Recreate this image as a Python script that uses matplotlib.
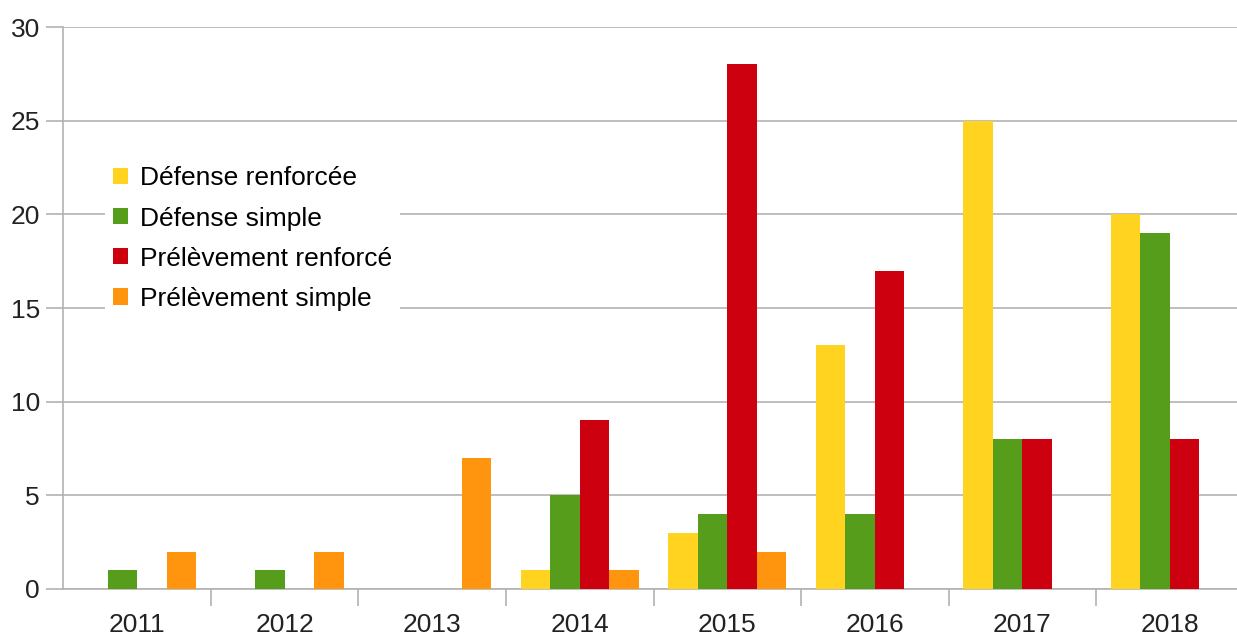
import numpy as np
import matplotlib.pyplot as plt

plt.rcParams['font.family'] = ['Liberation Sans', 'DejaVu Sans']

# Données
annees = ['2011', '2012', '2013', '2014', '2015', '2016', '2017', '2018']
defense_renforcee = [0, 0, 0, 1, 3, 13, 25, 20]
defense_simple = [1, 1, 0, 5, 4, 4, 8, 19]
prelevement_renforce = [0, 0, 0, 9, 28, 17, 8, 8]
prelevement_simple = [2, 2, 7, 1, 2, 0, 0, 0]

series = [
    ('Défense renforcée', defense_renforcee, '#ffd320'),
    ('Défense simple', defense_simple, '#579d1c'),
    ('Prélèvement renforcé', prelevement_renforce, '#cc000e'),
    ('Prélèvement simple', prelevement_simple, '#ff950e'),
]

gris = '#b3b3b3'
taille = 19
fig = plt.figure(figsize=(12.37, 6.36), dpi=100)
ax = fig.add_axes([0.0513, 0.0739, 0.954, 0.8836])

x = np.arange(len(annees))
largeur = 0.2
for i, (nom, valeurs, couleur) in enumerate(series):
    ax.bar(x + (i - 1.5) * largeur, valeurs, largeur, color=couleur, label=nom, zorder=3)

ax.set_xlim(-0.5, len(annees) - 0.5)
ax.set_ylim(0, 30)
ax.set_yticks(range(0, 31, 5))
ax.yaxis.grid(True, color=gris, linewidth=1.2, zorder=0)

# Graduations aux limites des catégories, étiquettes au centre
ax.set_xticks(np.arange(0.5, len(annees) - 0.5, 1))
ax.set_xticklabels([])
ax.set_xticks(x, minor=True)
ax.set_xticklabels(annees, minor=True)
ax.tick_params(axis='x', which='major', length=12, color=gris, width=1.2)
ax.tick_params(axis='x', which='minor', length=0, labelsize=taille, pad=17, labelcolor='#222222')
ax.tick_params(axis='y', length=12, color=gris, width=1.2, labelsize=taille, pad=5, labelcolor='#222222')

for s in ['top', 'right']:
    ax.spines[s].set_visible(False)
for s in ['left', 'bottom']:
    ax.spines[s].set_color(gris)
    ax.spines[s].set_linewidth(1.2)

leg = ax.legend(loc='upper left', bbox_to_anchor=(0.035, 0.766), borderaxespad=0,
                fontsize=taille, frameon=True, facecolor='white', edgecolor='none',
                framealpha=1, handlelength=0.57, handleheight=0.57, handletextpad=0.45,
                labelspacing=0.61, borderpad=0.3, fancybox=False)
leg.set_zorder(5)

fig.savefig('out.png', dpi=100)
